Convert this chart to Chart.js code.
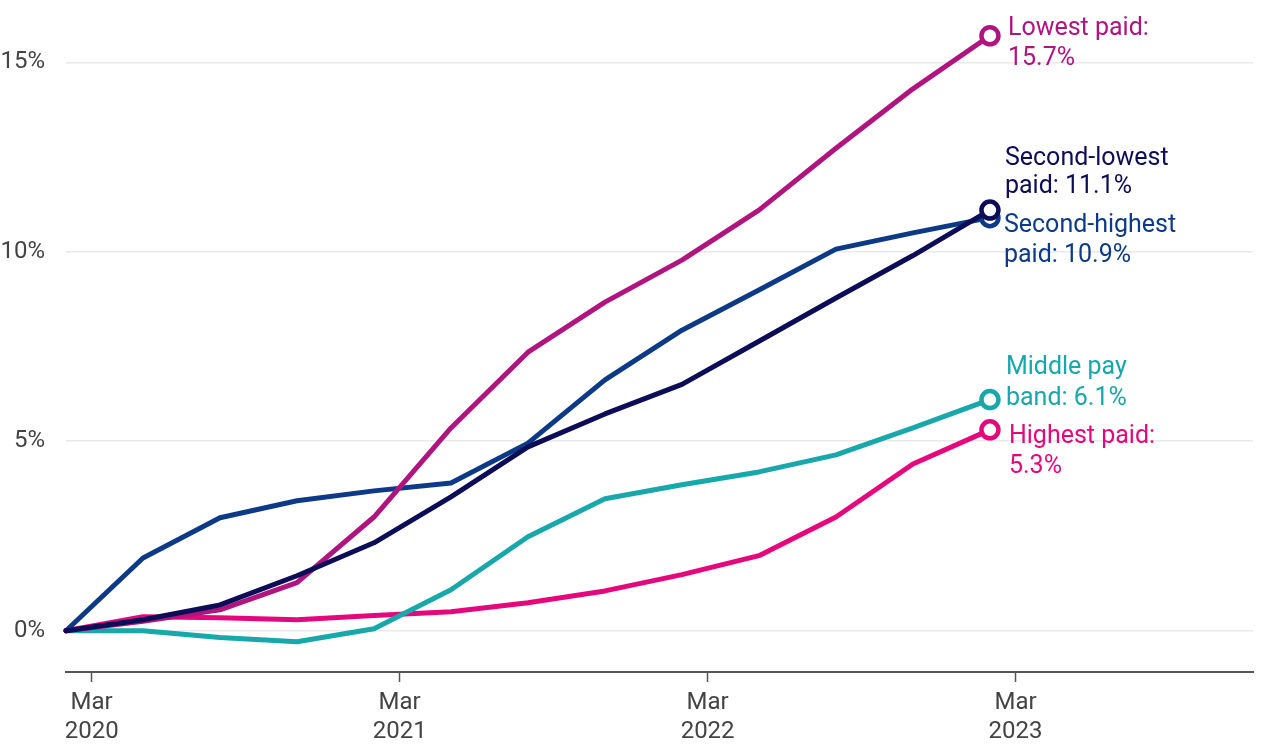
<!DOCTYPE html>
<html>
<head>
<meta charset="utf-8">
<script src="https://cdn.jsdelivr.net/npm/chart.js@4/dist/chart.umd.min.js"></script>
<style>
  html, body { margin: 0; padding: 0; background: #fff; }
  #wrap { width: 1280px; height: 753px; }
</style>
</head>
<body>
<div id="wrap"><canvas id="c" width="1280" height="753"></canvas></div>
<script>
// ---- Data (cumulative change in pay since Feb 2020, %) ----
const periods = ['2020-02','2020-05','2020-08','2020-11','2021-02','2021-05','2021-08','2021-11','2022-02','2022-05','2022-08','2022-11','2023-02'];

const lowestPaid     = [0, 0.25, 0.55, 1.27, 3.0, 5.35, 7.35, 8.67, 9.78, 11.1, 12.73, 14.3, 15.7];
const secondLowest   = [0, 0.29, 0.68, 1.45, 2.32, 3.53, 4.85, 5.72, 6.5, 7.64, 8.78, 9.9, 11.1];
const secondHighest  = [0, 1.92, 2.98, 3.43, 3.69, 3.9, 4.95, 6.62, 7.93, 8.99, 10.07, 10.5, 10.9];
const middleBand     = [0, 0.0, -0.18, -0.29, 0.05, 1.08, 2.48, 3.48, 3.85, 4.19, 4.64, 5.35, 6.1];
const highestPaid    = [0, 0.37, 0.34, 0.29, 0.4, 0.5, 0.74, 1.05, 1.48, 1.98, 3.0, 4.4, 5.3];

const seriesNames  = ['Second-lowest paid', 'Lowest paid', 'Second-highest paid', 'Middle pay band', 'Highest paid'];
const endLabels    = [['Second-lowest', 'paid: 11.1%'], ['Lowest paid:', '15.7%'], ['Second-highest', 'paid: 10.9%'], ['Middle pay', 'band: 6.1%'], ['Highest paid:', '5.3%']];

const xTickPeriods = ['2020-03', '2021-03', '2022-03', '2023-03'];
const xTickLabels  = [['Mar', '2020'], ['Mar', '2021'], ['Mar', '2022'], ['Mar', '2023']];
const yTickValues  = [0, 5, 10, 15];

// ---- Styling ----
const colors = ['#0c0c57', '#b0147f', '#0d3a86', '#18a7ab', '#e5087d'];
const labelOffsets = [ // [dx, dy line1, dy line2] relative to end point
  [15, -51, -23],
  [18, -7, 23],
  [14, 8, 38],
  [16, -32, -1],
  [19, 7, 37]
];

function toMonth(p) { const [y, m] = p.split('-').map(Number); return (y - 2020) * 12 + (m - 1); }
const xs = periods.map(toMonth);
const seriesValues = [secondLowest, lowestPaid, secondHighest, middleBand, highestPaid];

const FONT = 'Roboto, "Noto Sans", sans-serif';

const datasets = seriesValues.map((vals, i) => ({
  label: seriesNames[i],
  data: vals.map((v, j) => ({ x: xs[j], y: v })),
  borderColor: colors[i],
  backgroundColor: colors[i],
  borderWidth: 5,
  tension: 0,
  fill: false,
  clip: false,
  pointRadius: vals.map((v, j) => j === vals.length - 1 ? 8.5 : 0),
  pointBorderWidth: 4.5,
  pointBorderColor: colors[i],
  pointBackgroundColor: '#ffffff',
  pointHoverRadius: 0,
  borderJoinStyle: 'round',
  borderCapStyle: 'round'
}));

const endLabelPlugin = {
  id: 'endLabels',
  afterDatasetsDraw(chart) {
    const ctx = chart.ctx;
    ctx.save();
    ctx.font = '25px ' + FONT;
    ctx.textAlign = 'left';
    ctx.textBaseline = 'middle';
    chart.data.datasets.forEach((ds, i) => {
      const meta = chart.getDatasetMeta(i);
      const pt = meta.data[meta.data.length - 1];
      const off = labelOffsets[i];
      ctx.fillStyle = colors[i];
      ctx.fillText(endLabels[i][0], pt.x + off[0], pt.y + off[1]);
      ctx.fillText(endLabels[i][1], pt.x + off[0], pt.y + off[2]);
    });
    ctx.restore();
  }
};

new Chart(document.getElementById('c'), {
  type: 'line',
  data: { datasets },
  options: {
    responsive: false,
    animation: false,
    devicePixelRatio: 1,
    layout: { padding: { top: 10, right: 27, left: 0, bottom: 0 } },
    plugins: { legend: { display: false }, tooltip: { enabled: false } },
    scales: {
      x: {
        type: 'linear',
        min: 1,
        max: 47.25,
        afterFit(scale) { scale.height = 81; },
        afterBuildTicks(scale) { scale.ticks = xTickPeriods.map(p => ({ value: toMonth(p) })); },
        ticks: {
          autoSkip: false,
          maxRotation: 0,
          color: '#444',
          font: { family: FONT, size: 24 },
          padding: 7,
          callback(value) {
            const idx = xTickPeriods.findIndex(p => toMonth(p) === value);
            return idx >= 0 ? xTickLabels[idx] : '';
          }
        },
        grid: { display: true, drawOnChartArea: false, drawTicks: true, tickLength: 10, tickColor: '#555', tickWidth: 1.5 },
        border: { display: true, color: '#555', width: 2 }
      },
      y: {
        type: 'linear',
        min: -1.09,
        max: 15.71,
        afterFit(scale) { scale.width = 66; },
        afterBuildTicks(scale) { scale.ticks = yTickValues.map(v => ({ value: v })); },
        ticks: {
          color: '#444',
          font: { family: FONT, size: 24 },
          padding: 21,
          callback(v) { return v + '%'; }
        },
        grid: { color: '#e9e9e9', lineWidth: 1.5, drawTicks: false },
        border: { display: false }
      }
    }
  },
  plugins: [endLabelPlugin]
});
</script>
</body>
</html>
